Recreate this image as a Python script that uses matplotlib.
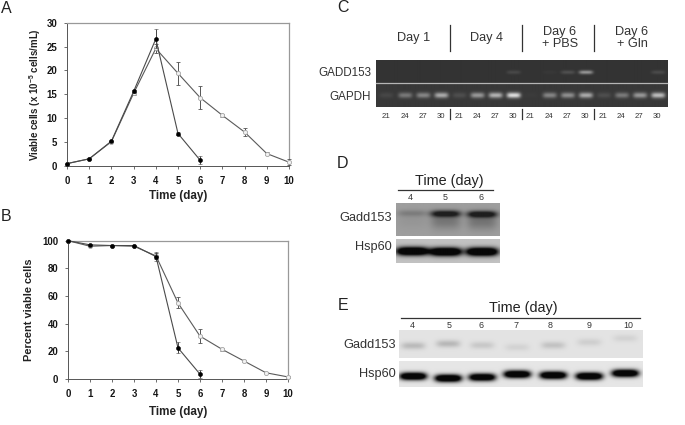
import numpy as np
import matplotlib
matplotlib.use("Agg")
import matplotlib.pyplot as plt

plt.rcParams['font.family'] = ['Liberation Sans', 'DejaVu Sans']
plt.rcParams['mathtext.fontset'] = 'custom'
plt.rcParams['mathtext.bf'] = 'Liberation Sans:bold'
plt.rcParams['mathtext.rm'] = 'Liberation Sans:bold'

# ---- data ----
days_black = [0, 1, 2, 3, 4, 5, 6]
days_open = [0, 1, 2, 3, 4, 5, 6, 7, 8, 9, 10]
a_black = [0.5, 1.5, 5.2, 15.6, 26.6, 6.8, 1.2]
a_black_err = [0, 0, 0, 0.3, 2.0, 0.3, 0.8]
a_open = [0.5, 1.5, 5.1, 15.2, 24.6, 19.4, 14.3, 10.6, 7.1, 2.6, 0.8]
a_open_err = [0, 0, 0, 0.3, 1.0, 2.4, 2.4, 0.3, 0.8, 0.3, 0.6]
b_black = [100, 97, 96.5, 96.5, 88.5, 22.5, 3.5]
b_black_err = [0, 0, 0, 0, 3, 4, 3]
b_open = [100, 96, 96.5, 96, 89, 55, 31, 21.5, 13, 4.5, 1.5]
b_open_err = [0, 0, 0, 0, 2, 4, 5, 1, 1, 0.5, 0.5]
x_ticks = [0, 1, 2, 3, 4, 5, 6, 7, 8, 9, 10]
a_yticks = [0, 5, 10, 15, 20, 25, 30]
b_yticks = [0, 20, 40, 60, 80, 100]

cycles = ['21', '24', '27', '30'] * 4
c_groups = ['Day 1', 'Day 4', 'Day 6\n+ PBS', 'Day 6\n+ Gln']
c_gadd = [0, 0, 0, 0, 0, 0, 0, 0.12, 0, 0.03, 0.16, 0.55, 0, 0, 0, 0.13]
c_gapdh = [0.08, 0.35, 0.42, 0.62, 0.12, 0.52, 0.66, 0.9, 0.02, 0.42, 0.47, 0.62, 0.12, 0.36, 0.52, 0.72]
d_days = ['4', '5', '6']
d_gadd = [0.2, 0.95, 1.0]
d_hsp = [1.0, 1.0, 1.0]
e_days = ['4', '5', '6', '7', '8', '9', '10']
e_gadd = [0.3, 0.32, 0.2, 0.12, 0.24, 0.15, 0.12]
e_hsp = [1.0, 1.0, 0.95, 1.0, 1.0, 1.0, 1.0]

W, H = 685, 425
fig = plt.figure(figsize=(W / 100, H / 100), dpi=100, facecolor='white')


def pax(x0, y0, x1, y1, **kw):
    return fig.add_axes([x0 / W, 1 - y1 / H, (x1 - x0) / W, (y1 - y0) / H], **kw)


def growth(box, yt, ymax, kb, kbe, ko, koe, ylabel, ylab_x, xlab_y, ylab_fs):
    ax = pax(*box)
    ax.errorbar(days_open, ko, yerr=koe, color='#5a5a5a', lw=0.8, marker='o', ms=3.0,
                mfc='#f2f2f2', mec='#a5a5a5', mew=0.6, ecolor='#555555', elinewidth=0.7,
                capsize=1.2, capthick=0.6, clip_on=False, zorder=3)
    ax.errorbar(days_black, kb, yerr=kbe, color='#4a4a4a', lw=0.8, marker='o', ms=2.9,
                mfc='black', mec='black', mew=0.4, ecolor='#444444', elinewidth=0.7,
                capsize=1.2, capthick=0.6, clip_on=False, zorder=4)
    ax.set_xlim(0, 10)
    ax.set_ylim(0, ymax)
    ax.set_xticks(x_ticks)
    ax.set_yticks(yt)
    ax.tick_params(length=2, width=0.6, color='#555555', labelsize=6.9, pad=5, labelcolor='#151515')
    for lab in ax.get_xticklabels() + ax.get_yticklabels():
        lab.set_fontweight('bold')
    for s in ('left', 'bottom'):
        ax.spines[s].set_color('#555555')
        ax.spines[s].set_linewidth(0.7)
    for s in ('top', 'right'):
        ax.spines[s].set_color('#999999')
        ax.spines[s].set_linewidth(0.9)
    ov.text(178, xlab_y, 'Time (day)', ha='center', va='center', fontsize=8.4, fontweight='bold', color='#222222')
    ov.text(ylab_x, (box[1] + box[3]) / 2, ylabel, rotation=90, ha='center', va='center',
            fontsize=ylab_fs, fontweight='bold', color='#222222')
    return ax


def gel(box, bg, tone, xs, ys, strengths, w, h, smear=0.0, gain=1.0):
    x0, y0, x1, y1 = box
    ax = pax(*box)
    ax.axis('off')
    xx, yy = np.meshgrid(np.arange(x0, x1, 0.5), np.arange(y0, y1, 0.5))
    m = np.zeros_like(xx, dtype=float)
    for xc, yc, s in zip(xs, ys, strengths):
        m += gain * s * np.exp(-((xx - xc) / w) ** 4 - ((yy - yc) / h) ** 2)
        if smear:
            m += smear * s * np.exp(-((xx - xc) / w) ** 4 - ((yy - yc - 2.2 * h) / (2.5 * h)) ** 2)
    m = np.clip(m, 0, 1)
    ax.imshow(bg + (tone - bg) * m, cmap='gray', vmin=0, vmax=1, aspect='auto',
              interpolation='bilinear', extent=(x0, x1, y1, y0))
    return ax


ov = pax(0, 0, W, H, zorder=10)
ov.set_xlim(0, W)
ov.set_ylim(H, 0)
ov.axis('off')
ov.patch.set_alpha(0)

growth((67, 22.7, 289, 166), a_yticks, 30, a_black, a_black_err, a_open, a_open_err,
       r'Viable cells (x 10$^{\mathbf{-5}}$ cells/mL)', 35, 195.5, 7.0)
growth((68, 240.7, 288, 379), b_yticks, 100, b_black, b_black_err, b_open, b_open_err,
       'Percent viable cells', 29, 411.5, 7.9)

for letter, x, y in [('A', 6, 8), ('B', 6, 216), ('C', 343, 7.5), ('D', 343, 163), ('E', 343, 305)]:
    ov.text(x, y, letter, ha='center', va='center', fontsize=11.5, color='#222222')

# panel C
lanes_c = [386, 405, 423, 441, 459, 477, 495, 513, 530, 549, 567, 585, 603, 621, 639, 657]
gel((376, 60, 667, 83), 0.2, 0.92, lanes_c, [72] * 16, c_gadd, 7, 1.9)
gel((376, 84, 667, 107), 0.22, 0.95, lanes_c, [95] * 16, c_gapdh, 7, 2.8)
ov.plot([376, 667], [83.3, 83.3], color='#b5b5b5', lw=0.9)
for x in (450, 522, 594):
    ov.plot([x, x], [25, 51], color='#333333', lw=0.9)
    ov.plot([x, x], [109, 119], color='#333333', lw=0.9)
for x, t in zip((414, 487, 560, 632), c_groups):
    ov.text(x, 38, t, ha='center', va='center', fontsize=9.2, color='#333333', linespacing=1.05)
for x, t in zip(lanes_c, cycles):
    ov.text(x, 116, t, ha='center', va='center', fontsize=5.6, color='#333333')
ov.text(371, 72.5, 'GADD153', ha='right', va='center', fontsize=8.4, color='#333333')
ov.text(371, 96.5, 'GAPDH', ha='right', va='center', fontsize=8.4, color='#333333')

# panel D
lanes_d = [412, 445, 481]
gel((396, 203, 499, 236), 0.62, 0.12, lanes_d, [213, 213.5, 214], d_gadd, 15, 3.3, smear=0.33, gain=1.2)
gel((396, 239, 499, 263), 0.76, 0.03, lanes_d, [251, 251.5, 251.5], d_hsp, 16, 4.2, gain=1.7)
ov.plot([398, 493], [189.5, 189.5], color='#333333', lw=0.9)
ov.text(449, 181, 'Time (day)', ha='center', va='center', fontsize=10.4, color='#222222')
for x, t in zip((410, 445, 481), d_days):
    ov.text(x, 197, t, ha='center', va='center', fontsize=6.4, color='#333333')
ov.text(391.5, 217.5, 'Gadd153', ha='right', va='center', fontsize=9.2, color='#333333')
ov.text(391.5, 247, 'Hsp60', ha='right', va='center', fontsize=9.2, color='#333333')

# panel E
lanes_e = [413, 448, 482, 517, 553, 589, 625]
gel((399, 330, 643, 358), 0.89, 0.35, lanes_e, [345.5, 343.5, 345, 347, 345, 342, 338], e_gadd, 12, 3.6)
gel((399, 361, 643, 387), 0.9, 0.03, lanes_e, [376, 378, 377, 374, 375, 376, 373], e_hsp, 13.5, 3.7, gain=1.6)
ov.plot([401, 640], [317.5, 317.5], color='#333333', lw=0.9)
ov.text(523, 308, 'Time (day)', ha='center', va='center', fontsize=10.4, color='#222222')
for x, t in zip((412, 449, 481, 516, 550, 589, 628), e_days):
    ov.text(x, 325, t, ha='center', va='center', fontsize=6.4, color='#333333')
ov.text(396, 345, 'Gadd153', ha='right', va='center', fontsize=9.2, color='#333333')
ov.text(396, 374, 'Hsp60', ha='right', va='center', fontsize=9.2, color='#333333')

fig.savefig('out.png', dpi=100)
